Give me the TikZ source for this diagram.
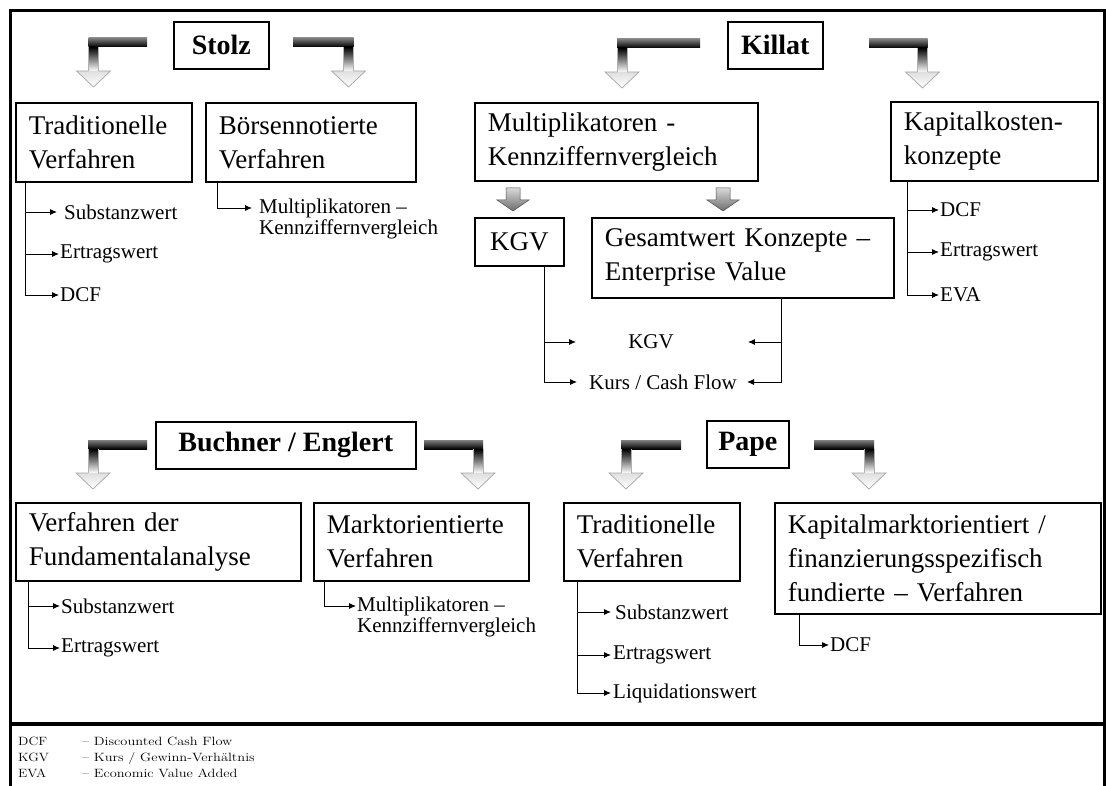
\documentclass[tikz,border=0pt]{standalone}
\usepackage{fontspec}
\usepackage{graphicx}
\newfontfamily\tnr{Liberation Serif}
\usetikzlibrary{arrows.meta}
\newcommand\bentleft[4]{%
  \shade[top color=black!50, bottom color=black] (#1,#3) rectangle (#2-5,#3+9);
  \shade[top color=black, bottom color=white] (#2-5,#3+9) rectangle (#2+5,#4-16);
  \draw[gray!60, line width=0.5pt] (#2-5,#3+9) -- (#2-5,#4-16) (#2+5,#3+9) -- (#2+5,#4-16);
  \shadedraw[draw=gray!70, top color=gray!25, bottom color=white, line width=0.7pt] (#2-5,#4-16) -- (#2-17,#4-16) -- (#2,#4) -- (#2+17,#4-16) -- (#2+5,#4-16);
}
\newcommand\bentright[4]{%
  \shade[top color=black!50, bottom color=black] (#1,#3) rectangle (#2+5,#3+9);
  \shade[top color=black, bottom color=white] (#2-5,#3+9) rectangle (#2+5,#4-16);
  \draw[gray!60, line width=0.5pt] (#2-5,#3+9) -- (#2-5,#4-16) (#2+5,#3+9) -- (#2+5,#4-16);
  \shadedraw[draw=gray!70, top color=gray!25, bottom color=white, line width=0.7pt] (#2-5,#4-16) -- (#2-17,#4-16) -- (#2,#4) -- (#2+17,#4-16) -- (#2+5,#4-16);
}
\newcommand\grayarrow[2]{%
  \shadedraw[top color=gray!30, bottom color=gray!85!black, draw=gray!60!black, line width=0.5pt]
    (#1-7,#2) -- (#1+7,#2) -- (#1+7,#2+12) -- (#1+16,#2+12) -- (#1,#2+23) -- (#1-16,#2+12) -- (#1-7,#2+12) -- cycle;
}
\begin{document}
\begin{tikzpicture}[x=1pt,y=-1pt,
  hbox/.style={draw, line width=1.6pt, anchor=north west, inner sep=0pt,
    font=\tnr\bfseries\fontsize{28}{32}\selectfont},
  cbox/.style={draw, line width=1.6pt, anchor=north west, inner xsep=13pt, inner ysep=0pt,
    align=left, font=\tnr\fontsize{27}{34}\selectfont},
  item/.style={anchor=west, inner sep=1pt, font=\tnr\fontsize{21}{25}\selectfont},
  conn/.style={line width=0.9pt, -{Latex[length=7pt,width=6pt]}},
  frame/.style={line width=3pt},
  legend/.style={anchor=base west, inner sep=0pt, font=\fontsize{12}{14}\selectfont},
]
\useasboundingbox (0,0) rectangle (1106,786);
\fill[white] (0,0) rectangle (1106,786);
% frame
\draw[frame] (10,786) -- (10,11) -- (1104,11) -- (1104,786);
\draw[line width=4pt] (10,724) -- (1104,724);

% ---------- Stolz ----------
\node[hbox, minimum width=95, minimum height=47] (stolz) at (173,21) {Stolz};
\bentleft{147}{93.5}{38}{87}
\bentright{293}{348.5}{38}{87}
\node[cbox, text width=150, minimum height=79] (tv1) at (15,102) {Traditionelle\\Verfahren};
\node[cbox, text width=184, minimum height=79] (bv) at (205,102) {Börsennotierte\\Verfahren};
\node[item] (s1) at (63,212) {Substanzwert};
\node[item] (s2) at (59,254) {Ertragswert};
\node[item] (s3) at (59,295) {DCF};
\draw[conn, shorten >=6pt] ([xshift=10pt]tv1.south west) |- (s1.west);
\draw[conn] ([xshift=10pt]tv1.south west) |- (s2.west);
\draw[conn] ([xshift=10pt]tv1.south west) |- (s3.west);
\node[item] (b1) at (258,208) {Multiplikatoren –};
\node[item, anchor=north west] (b2) at (b1.south west) {Kennziffernvergleich};
\draw[conn, shorten >=6pt] ([xshift=12pt]bv.south west) |- (b1.west);

% ---------- Killat ----------
\node[hbox, minimum width=95, minimum height=47] (killat) at (727,21) {Killat};
\bentleft{700}{622}{39}{88}
\bentright{869}{922.5}{39}{88}
\node[cbox, text width=257, minimum height=78] (mk) at (474,102) {Multiplikatoren -\\Kennziffernvergleich};
\node[cbox, text width=181, minimum height=79] (kk) at (890,101) {Kapitalkosten-\\konzepte};
\grayarrow{513}{188}
\grayarrow{723}{188}
\node[cbox, align=center, text width=63, minimum height=48] (kgv) at (474,217) {KGV};
\node[cbox, text width=276, minimum height=80] (gw) at (591,217) {Gesamtwert Konzepte –\\Enterprise Value};
\node[item, anchor=center] (k1) at (651,342) {KGV};
\node[item, anchor=center] (k2) at (663,382) {Kurs / Cash Flow};
\draw[conn, shorten >=51pt] ([xshift=70pt]kgv.south west) |- (k1.west);
\draw[conn, shorten >=11pt] ([xshift=70pt]kgv.south west) |- (k2.west);
\draw[conn, shorten >=73pt] ([xshift=-113pt]gw.south east) |- (k1.east);
\draw[conn, shorten >=9pt] ([xshift=-113pt]gw.south east) |- (k2.east);
\node[item] (c1) at (939,210) {DCF};
\node[item] (c2) at (939,252) {Ertragswert};
\node[item] (c3) at (939,295) {EVA};
\draw[conn] ([xshift=17pt]kk.south west) |- (c1.west);
\draw[conn] ([xshift=17pt]kk.south west) |- (c2.west);
\draw[conn] ([xshift=17pt]kk.south west) |- (c3.west);

% ---------- Buchner / Englert ----------
\node[hbox, minimum width=260, minimum height=47] (be) at (155,421) {Buchner / Englert};
\bentleft{147}{93}{440}{489}
\bentright{424}{478}{440}{489}
\node[cbox, text width=259, minimum height=78] (fa) at (15,502) {Verfahren der\\Fundamentalanalyse};
\node[cbox, text width=189, minimum height=78] (mo) at (313,502) {Marktorientierte\\Verfahren};
\node[item] (f1) at (60,606) {Substanzwert};
\node[item] (f2) at (60,648) {Ertragswert};
\draw[conn] ([xshift=13pt]fa.south west) |- (f1.west);
\draw[conn] ([xshift=13pt]fa.south west) |- (f2.west);
\node[item] (m1) at (356,606) {Multiplikatoren –};
\node[item, anchor=north west] (m2) at (m1.south west) {Kennziffernvergleich};
\draw[conn] ([xshift=11pt]mo.south west) |- (m1.west);

% ---------- Pape ----------
\node[hbox, minimum width=82, minimum height=47] (pape) at (706,420) {Pape};
\bentleft{681}{626}{440}{489}
\bentright{814}{869}{440}{489}
\node[cbox, text width=150, minimum height=78] (tv2) at (563,502) {Traditionelle\\Verfahren};
\node[cbox, text width=300, minimum height=111] (kmo) at (774,502)
  {Kapitalmarktorientiert /\\finanzierungsspezifisch\\fundierte – Verfahren};
\node[item] (p1) at (614,612) {Substanzwert};
\node[item] (p2) at (612,655) {Ertragswert};
\node[item] (p3) at (612,693) {Liquidationswert};
\draw[conn, shorten >=3pt] ([xshift=14pt]tv2.south west) |- (p1.west);
\draw[conn, shorten >=1pt] ([xshift=14pt]tv2.south west) |- (p2.west);
\draw[conn, shorten >=1pt] ([xshift=14pt]tv2.south west) |- (p3.west);
\node[item] (d1) at (829,645) {DCF};
\draw[conn] ([xshift=25pt]kmo.south west) |- (d1.west);

% ---------- legend ----------
\node[legend] (l1) at (18,745) {\scalebox{1.15}[1]{DCF}};
\node[legend] (l1t) at (82,745) {\scalebox{1.2}[1]{– Discounted Cash Flow}};
\node[legend] (l2) at (18,761) {\scalebox{1.15}[1]{KGV}};
\node[legend] (l2t) at (82,761) {\scalebox{1.2}[1]{– Kurs / Gewinn-Verhältnis}};
\node[legend] (l3) at (18,777) {\scalebox{1.15}[1]{EVA}};
\node[legend] (l3t) at (82,777) {\scalebox{1.2}[1]{– Economic Value Added}};
\end{tikzpicture}
\end{document}
